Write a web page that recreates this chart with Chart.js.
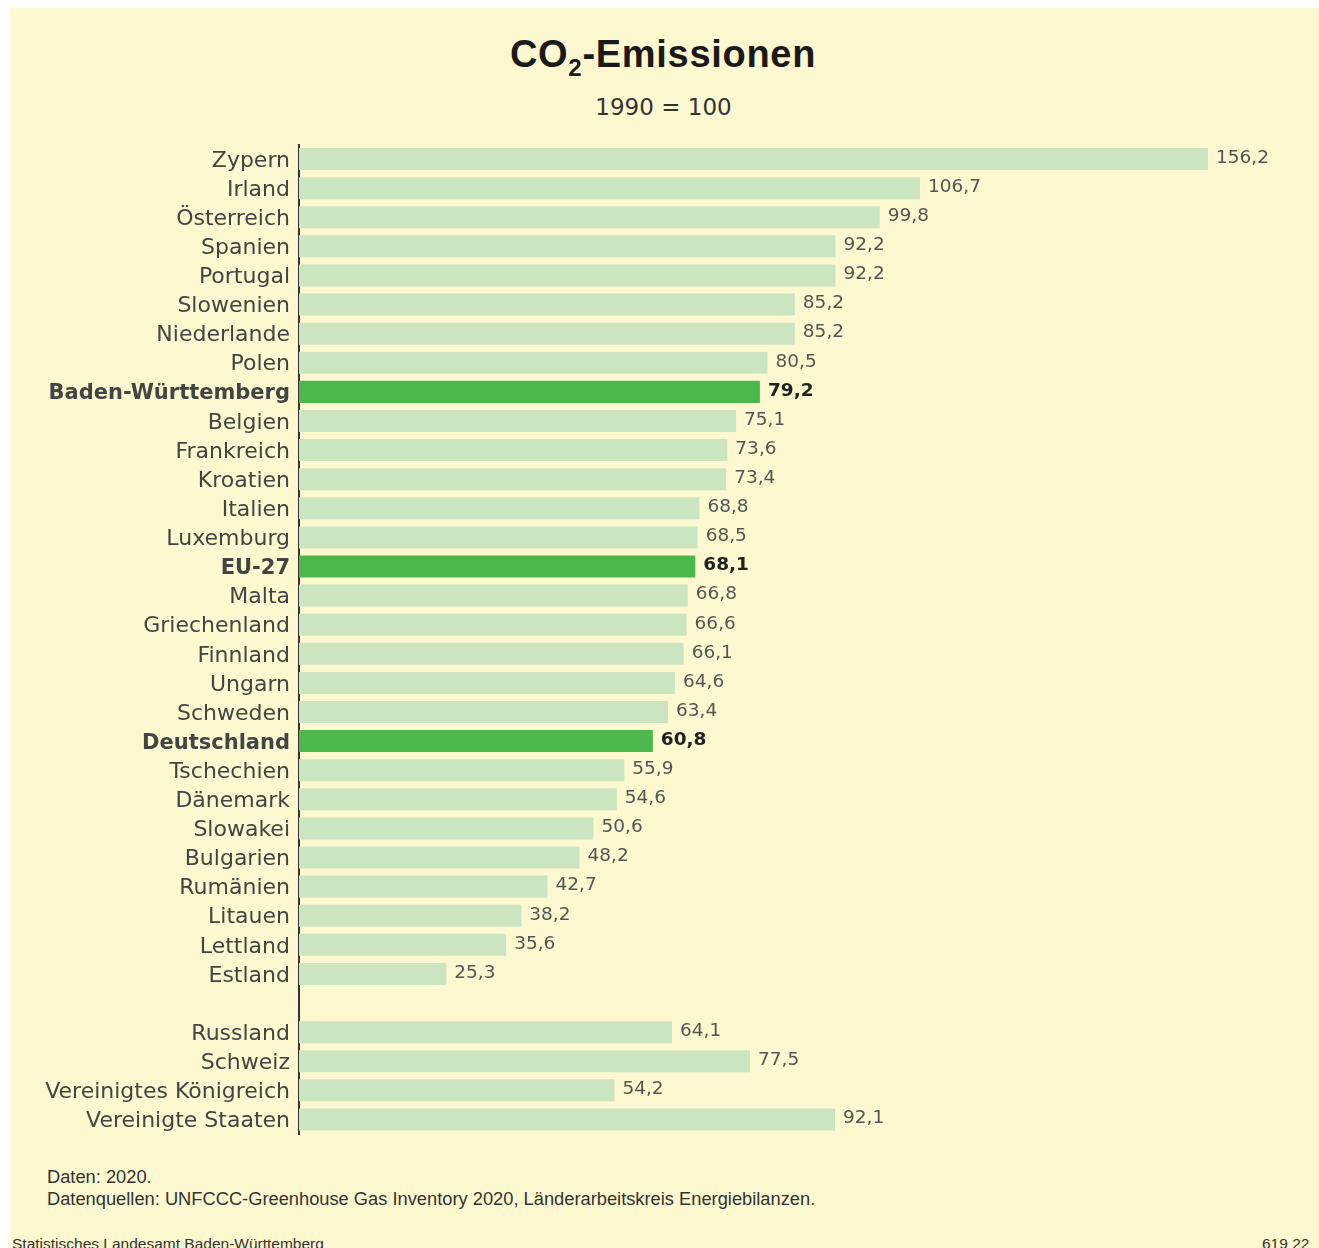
<!DOCTYPE html>
<html>
<head>
<meta charset="utf-8">
<script src="https://cdn.jsdelivr.net/npm/chart.js@4.4.1/dist/chart.umd.min.js"></script>
<style>
    body { margin:0; background:#ffffff; font-family:"Liberation Sans", Arial, sans-serif; }
    #page { position:relative; width:1319px; height:1248px; overflow:hidden; }
    #panel { position:absolute; left:10px; top:8px; width:1309px; height:1240px; background:#fdf8d0; }
    #title { position:absolute; left:0; width:1326px; top:33px; text-align:center; font-size:38px; font-weight:bold; color:#1a1a1a; letter-spacing:0.7px; }
    #title sub { font-size:24px; vertical-align:-9px; line-height:0; }
    #subtitle { position:absolute; left:0; width:1327px; top:94px; text-align:center; font-size:23px; color:#333; font-family:"DejaVu Sans", sans-serif; }
    #wrap { position:absolute; left:0; top:140px; width:1319px; height:1000px; }
    .note { position:absolute; left:47px; font-size:18.3px; color:#333; }
    .small { position:absolute; font-size:15.5px; color:#333; }
</style>
</head>
<body>
<div id="page">
    <div id="panel"></div>
    <div id="title">CO<sub>2</sub>-Emissionen</div>
    <div id="subtitle">1990 = 100</div>
    <div id="wrap"><canvas id="co2Chart"></canvas></div>
    <div class="note" style="top:1166px;">Daten: 2020.</div>
    <div class="note" style="top:1188px;">Datenquellen: UNFCCC-Greenhouse Gas Inventory 2020, Länderarbeitskreis Energiebilanzen.</div>
    <div class="small" style="left:12px; top:1235px;">Statistisches Landesamt Baden-Württemberg</div>
    <div class="small" style="left:1262px; top:1235px;">619 22</div>
</div>
<script>
// Länder (leerer Eintrag = Abstand vor den Nicht-EU-Ländern)
const laender = [
    'Zypern', 'Irland', 'Österreich', 'Spanien', 'Portugal', 'Slowenien', 'Niederlande', 'Polen',
    'Baden-Württemberg', 'Belgien', 'Frankreich', 'Kroatien', 'Italien', 'Luxemburg', 'EU-27',
    'Malta', 'Griechenland', 'Finnland', 'Ungarn', 'Schweden', 'Deutschland', 'Tschechien',
    'Dänemark', 'Slowakei', 'Bulgarien', 'Rumänien', 'Litauen', 'Lettland', 'Estland', '',
    'Russland', 'Schweiz', 'Vereinigtes Königreich', 'Vereinigte Staaten'
];
const werte = [
    156.2, 106.7, 99.8, 92.2, 92.2, 85.2, 85.2, 80.5,
    79.2, 75.1, 73.6, 73.4, 68.8, 68.5, 68.1,
    66.8, 66.6, 66.1, 64.6, 63.4, 60.8, 55.9,
    54.6, 50.6, 48.2, 42.7, 38.2, 35.6, 25.3, null,
    64.1, 77.5, 54.2, 92.1
];
const hervorgehoben = ['Baden-Württemberg', 'EU-27', 'Deutschland'];

const istHervor = i => hervorgehoben.includes(laender[i]);
const schrift = '"DejaVu Sans", sans-serif';

// Werte rechts neben den Balken
const wertLabels = {
    id: 'wertLabels',
    afterDatasetsDraw(chart) {
        const ctx = chart.ctx;
        const meta = chart.getDatasetMeta(0);
        ctx.save();
        ctx.textBaseline = 'middle';
        ctx.textAlign = 'left';
        meta.data.forEach((bar, i) => {
            if (werte[i] === null) return;
            ctx.font = (istHervor(i) ? 'bold ' : '') + '18.5px ' + schrift;
            ctx.fillStyle = istHervor(i) ? '#222' : '#555';
            ctx.fillText(werte[i].toFixed(1).replace('.', ','), bar.x + 8, bar.y - 1);
        });
        ctx.restore();
    }
};

new Chart(document.getElementById('co2Chart'), {
    type: 'bar',
    data: {
        labels: laender,
        datasets: [{
            data: werte,
            backgroundColor: laender.map((l, i) => istHervor(i) ? '#4cb84b' : '#cce5c1'),
            borderWidth: 0,
            barPercentage: 0.88,
            categoryPercentage: 0.86
        }]
    },
    options: {
        indexAxis: 'y',
        responsive: true,
        maintainAspectRatio: false,
        animation: false,
        layout: { padding: { top: 4.5, bottom: 6, right: 19, left: 0 } },
        plugins: { legend: { display: false }, tooltip: { enabled: false } },
        scales: {
            x: { display: false, min: 0, max: 172 },
            y: {
                grid: { display: false, drawTicks: false },
                border: { display: true, color: '#333', width: 2 },
                afterFit: s => { s.width = 299; s.paddingTop = 0; s.paddingBottom = 0; },
                ticks: {
                    autoSkip: false,
                    padding: 9,
                    labelOffset: 2,
                    color: '#444',
                    font: ctx => ({
                        family: schrift,
                        size: istHervor(ctx.index) ? 21 : 22,
                        weight: istHervor(ctx.index) ? 'bold' : 'normal'
                    })
                }
            }
        }
    },
    plugins: [wertLabels]
});
</script>
</body>
</html>
